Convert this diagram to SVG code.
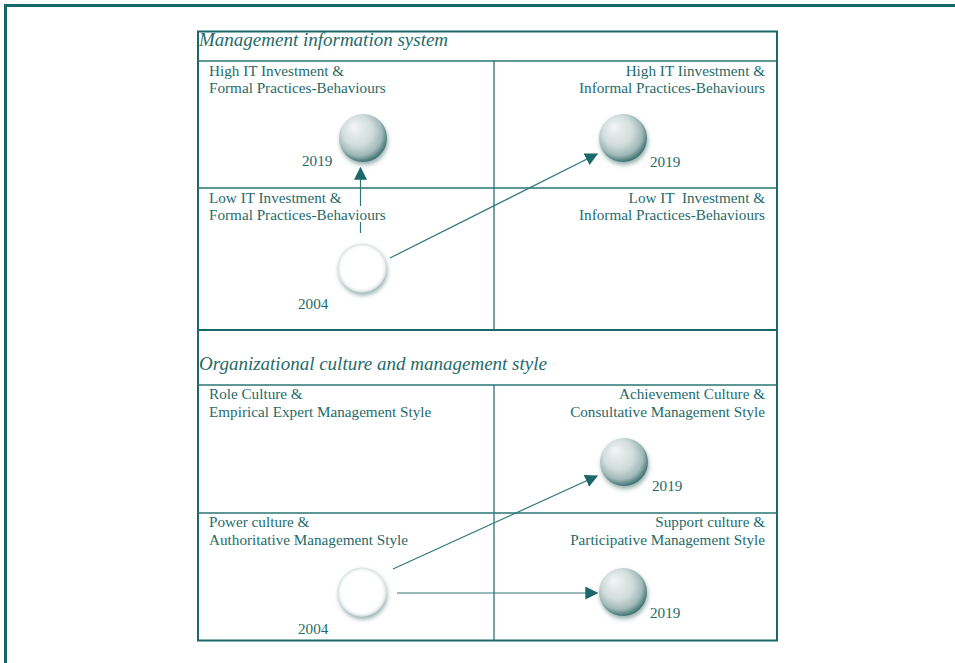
<svg xmlns="http://www.w3.org/2000/svg" width="955" height="663" viewBox="0 0 955 663">
<defs>
<style>
.frame{fill:none;stroke:#1a6869;stroke-width:2}
.grid{fill:none;stroke:#2a7373;stroke-width:1.3}
.lbl{font-family:"Liberation Serif","Times New Roman",serif;font-size:15.2px;fill:#1f6b6a}
.ttl{font-family:"Liberation Serif","Times New Roman",serif;font-size:19px;font-style:italic;fill:#1f6b6a}
.end{text-anchor:end}
.conn{fill:none;stroke:#2e7878;stroke-width:1.2}
</style>
<radialGradient id="sph" cx="0.45" cy="0.42" r="0.58" fx="0.3" fy="0.25">
<stop offset="0" stop-color="#f3f6f6"/>
<stop offset="0.55" stop-color="#d0dcdb"/>
<stop offset="0.82" stop-color="#a0b9b8"/>
<stop offset="1" stop-color="#3f7372"/>
</radialGradient>
<radialGradient id="wht" cx="0.5" cy="0.5" r="0.5">
<stop offset="0.85" stop-color="#ffffff"/>
<stop offset="1" stop-color="#e4eaea"/>
</radialGradient>
<filter id="sh" x="-50%" y="-50%" width="200%" height="200%">
<feDropShadow dx="1" dy="3" stdDeviation="2" flood-color="#4a7070" flood-opacity="0.55"/>
</filter>
<marker id="ah" viewBox="0 0 10 10" refX="9" refY="5" markerWidth="13" markerHeight="13" markerUnits="userSpaceOnUse" orient="auto">
<path d="M0,0 L10,5 L0,10 z" fill="#1a6869"/>
</marker>
</defs>
<rect width="955" height="663" fill="#ffffff"/>
<path d="M5.5 663 V5.5 H955" fill="none" stroke="#15676a" stroke-width="3"/>
<g id="frame">
<rect class="frame" x="198" y="31.5" width="579" height="609"/>
<line class="grid" x1="198" y1="61" x2="777" y2="61"/>
<line class="frame" x1="198" y1="330" x2="777" y2="330"/>
<line class="grid" x1="198" y1="385" x2="777" y2="385"/>
<line class="grid" x1="494" y1="61" x2="494" y2="330"/>
<line class="grid" x1="198" y1="188" x2="777" y2="188"/>
<line class="grid" x1="494" y1="385" x2="494" y2="641"/>
<line class="grid" x1="198" y1="513" x2="777" y2="513"/>
<text class="ttl" x="199" y="46">Management information system</text>
<text class="ttl" x="199" y="370">Organizational culture and management style</text>
</g>
<g id="connectors">
<path class="conn" d="M360.5 233 V222 M360.5 206 V168" marker-end="url(#ah)"/>
<line class="conn" x1="390" y1="258" x2="597" y2="154" marker-end="url(#ah)"/>
<line class="conn" x1="393" y1="569" x2="597" y2="476" marker-end="url(#ah)"/>
<line class="conn" x1="397" y1="593" x2="597" y2="593" marker-end="url(#ah)"/>
</g>
<g id="q1">
<text class="lbl" x="209" y="76">High IT Investment &amp;</text>
<text class="lbl" x="209" y="93">Formal Practices-Behaviours</text>
<circle cx="363" cy="138" r="24" fill="url(#sph)" filter="url(#sh)"/>
<text class="lbl" x="302" y="166">2019</text>
</g>
<g id="q2">
<text class="lbl end" x="765" y="76">High IT Iinvestment &amp;</text>
<text class="lbl end" x="765" y="93">Informal Practices-Behaviours</text>
<circle cx="623" cy="138" r="24" fill="url(#sph)" filter="url(#sh)"/>
<text class="lbl" x="650" y="167">2019</text>
</g>
<g id="q3">
<text class="lbl" x="209" y="203">Low IT Investment &amp;</text>
<text class="lbl" x="209" y="220">Formal Practices-Behaviours</text>
<circle cx="362" cy="268" r="24" fill="url(#wht)" stroke="#d8e2e2" stroke-width="1" filter="url(#sh)"/>
<text class="lbl" x="298" y="309">2004</text>
</g>
<g id="q4">
<text class="lbl end" x="765" y="203" xml:space="preserve">Low IT  Investment &amp;</text>
<text class="lbl end" x="765" y="220">Informal Practices-Behaviours</text>
</g>
<g id="c1">
<text class="lbl" x="209" y="399">Role Culture &amp;</text>
<text class="lbl" x="209" y="417">Empirical Expert Management Style</text>
</g>
<g id="c2">
<text class="lbl end" x="765" y="399">Achievement Culture &amp;</text>
<text class="lbl end" x="765" y="417">Consultative Management Style</text>
<circle cx="624" cy="462" r="24" fill="url(#sph)" filter="url(#sh)"/>
<text class="lbl" x="652" y="491">2019</text>
</g>
<g id="c3">
<text class="lbl" x="209" y="527">Power culture &amp;</text>
<text class="lbl" x="209" y="545">Authoritative Management Style</text>
<circle cx="362" cy="592" r="24" fill="url(#wht)" stroke="#d8e2e2" stroke-width="1" filter="url(#sh)"/>
<text class="lbl" x="298" y="634">2004</text>
</g>
<g id="c4">
<text class="lbl end" x="765" y="527">Support culture &amp;</text>
<text class="lbl end" x="765" y="545">Participative Management Style</text>
<circle cx="623" cy="592" r="24" fill="url(#sph)" filter="url(#sh)"/>
<text class="lbl" x="650" y="618">2019</text>
</g>
</svg>
